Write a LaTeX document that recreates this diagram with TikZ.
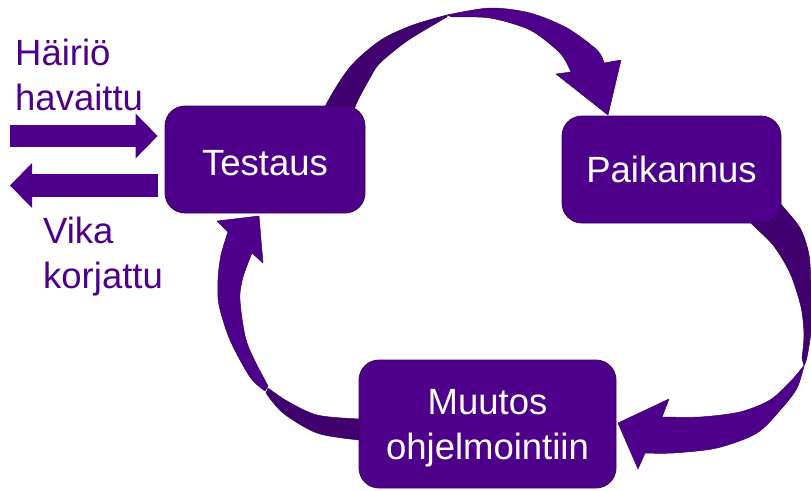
\documentclass[tikz,border=0pt]{standalone}
\usepackage{fontspec}
\setmainfont{Liberation Sans}
\usetikzlibrary{arrows.meta}
\definecolor{boxpurple}{RGB}{79,0,138}
\definecolor{backpurple}{RGB}{64,0,110}
\definecolor{edgepurple}{RGB}{55,0,95}

\begin{document}
\begin{tikzpicture}[x=1pt, y=-1pt,
	stage/.style={fill=boxpurple, draw=edgepurple, line width=0.8pt, rounded corners=20pt,
		text=white, inner sep=0pt, align=center, font=\fontsize{36.5}{45}\selectfont},
	sidelabel/.style={text=boxpurple, inner sep=0pt, align=left, font=\fontsize{36.5}{45}\selectfont},
	ribbonfront/.style={fill=boxpurple, draw=edgepurple, line width=0.5pt, line join=round},
	ribbonback/.style={fill=backpurple, draw=edgepurple, line width=0.5pt, line join=round},
	blockarrow/.style={draw=boxpurple, line width=#1, -{Triangle[width=45pt, length=22pt, line width=0pt]}}]
	\useasboundingbox (0,0) rectangle (811,490);
	% ribbon from Testaus to Paikannus
	\filldraw[ribbonback] plot[smooth] coordinates {(323,128) (325,107) (350,67) (381,40) (413,25) (447,15)}
		-- plot[smooth] coordinates {(447,17) (440,21) (407,41) (380,63) (370,78) (355,107) (353,128)} -- cycle;
	\filldraw[ribbonfront] plot[smooth] coordinates {(447,15) (490,8) (530,13) (567,28) (597,50) (604,63)}
		-- (621,60) -- (608,115) -- (556,74)
		-- plot[smooth] coordinates {(571,72) (560,53) (530,30) (490,18) (452,17)} -- cycle;
	% ribbon from Paikannus to Muutos
	\filldraw[ribbonback] plot[smooth] coordinates {(771,190) (780,203) (800,228) (809,255) (811,290) (811,330) (807,357) (804,366)}
		-- plot[smooth] coordinates {(802,358) (804,335) (801,307) (790,273) (773,245) (750,222) (746,212)} -- cycle;
	\filldraw[ribbonfront] plot[smooth] coordinates {(804,366) (797,388) (782,408) (757,433) (717,448) (673,453) (645,453)}
		-- (638,469) -- (618,423) -- (669,399)
		-- plot[smooth] coordinates {(662,417) (700,417) (740,412) (770,400) (790,382) (802,368)} -- cycle;
	% ribbon from Muutos to Testaus
	\filldraw[ribbonback] plot[smooth] coordinates {(380,441) (359,440) (317,433) (283,413) (266,393)}
		-- plot[smooth] coordinates {(268,388) (287,401) (317,415) (359,419) (380,419)} -- cycle;
	\filldraw[ribbonfront] plot[smooth] coordinates {(265,391) (250,377) (230,340) (219,305) (218,280) (221,255) (228,232)}
		-- (217,221) -- (259,216) -- (263,263)
		-- plot[smooth] coordinates {(252,253) (243,277) (240,300) (247,343) (268,386)} -- cycle;
	% the three stages
	\node[stage, minimum width=200pt, minimum height=107pt, text height=31pt, text depth=0pt] (testaus) at (265,159.5) {Testaus};
	\node[stage, minimum width=219pt, minimum height=107pt] (paikannus) at (671.5,169.5) {Paikannus};
	\node[stage, minimum width=257pt, minimum height=128pt, text depth=0pt] (muutos) at (487.5,424) {Muutos\\ohjelmointiin};
	% in and out
	\node[sidelabel, anchor=north west] (hairio) at (15,39) {Häiriö\\havaittu};
	\node[sidelabel, anchor=north west] (vika) at (43,217) {Vika\\korjattu};
	\coordinate (hairioin) at (10,136);
	\coordinate (vikaout) at (10,185.5);
	\draw[blockarrow=22pt, shorten >=7pt] (hairioin) -- (hairioin -| testaus.west);
	\draw[blockarrow=23pt, shorten <=7pt] (vikaout -| testaus.west) -- (vikaout);
\end{tikzpicture}
\end{document}
